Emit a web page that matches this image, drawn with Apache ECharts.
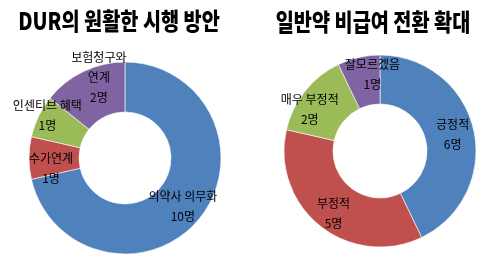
<!DOCTYPE html>
<html><head><meta charset="utf-8">
<script src="https://cdn.jsdelivr.net/npm/echarts@6/dist/echarts.min.js"></script>
<style>html,body{margin:0;padding:0;background:#fff}#c{width:500px;height:263px}</style>
</head><body><div id="c"></div>
<script>
const leftTitle = 'DUR의 원활한 시행 방안';
const leftNames = ['의약사 의무화', '수가연계', '인센티브 혜택', '보험청구와\n연계'];
const leftValues = [10, 1, 1, 2];
const rightTitle = '일반약 비급여 전환 확대';
const rightNames = ['긍정적', '부정적', '매우 부정적', '잘모르겠음'];
const rightValues = [6, 5, 2, 1];
const unit = '명';
const colors = ['#4F81BD', '#C0504D', '#9BBB59', '#8064A2'];
// label nudges (styling only), per series / slice
const labelNudge = [
  [[0, 2], [0, 10], [-11, -10], [6, -14]],
  [[0, 0], [0, 4], [-12, 5], [9, -4]]
];

const labelFont = { fontFamily: '"Noto Sans CJK KR", sans-serif', fontSize: 12, color: '#000', lineHeight: 20 };
function mk(names, values) {
  return names.map((n, i) => ({ name: n, value: values[i], itemStyle: { color: colors[i] } }));
}
const chart = echarts.init(document.getElementById('c'));
const titleFont = '900 24px "Noto Sans CJK KR", sans-serif';
function pieSeries(center, radius, names, values) {
  return { type: 'pie', center: center, radius: radius, startAngle: 90, clockwise: true,
    avoidLabelOverlap: false,
    itemStyle: { borderColor: '#fff', borderWidth: 0.6 },
    label: Object.assign({ position: 'inside', formatter: p => p.name + '\n' + p.value + unit }, labelFont),
    labelLine: { show: false },
    labelLayout: p => ({ dx: labelNudge[p.seriesIndex][p.dataIndex][0], dy: labelNudge[p.seriesIndex][p.dataIndex][1], hideOverlap: false }),
    data: mk(names, values) };
}
chart.setOption({
  animation: false,
  graphic: [
    { type: 'text', x: 119, y: 21, scaleX: 0.82, style: { text: leftTitle, font: titleFont, fill: '#000', textAlign: 'center', textVerticalAlign: 'middle' } },
    { type: 'text', x: 373, y: 22, scaleX: 0.82, style: { text: rightTitle, font: titleFont, fill: '#000', textAlign: 'center', textVerticalAlign: 'middle' } }
  ],
  series: [
    pieSeries([125, 158], [46, 96], leftNames, leftValues),
    pieSeries([380, 151], [47, 96], rightNames, rightValues)
  ]
});
</script></body></html>
